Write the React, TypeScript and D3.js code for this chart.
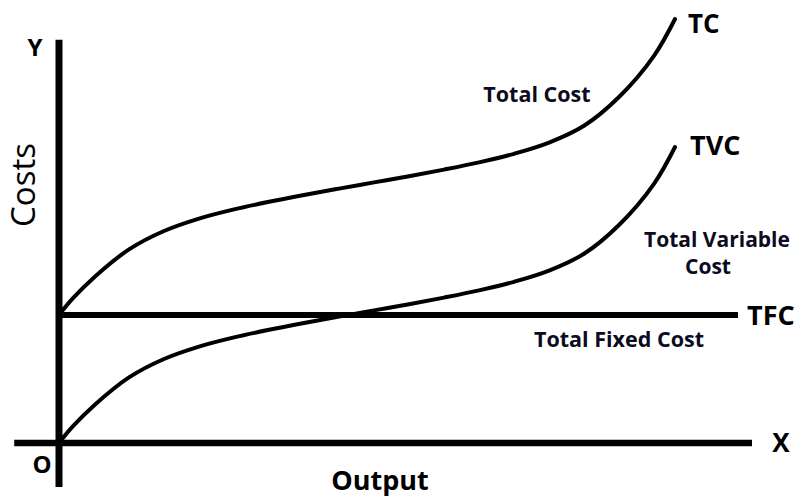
import * as d3 from "d3";

const W = 800;
const H = 497;

// output levels (x) and total variable cost
const output = [0, 2, 5, 10, 15, 20, 25, 30, 35, 40, 45, 50, 55, 60, 65, 70, 75, 80, 85, 88];
const tvc = [0, 4.2, 9.4, 16.4, 21, 24.1, 26.4, 28.3, 30, 31.6, 33.15, 34.7, 36.35, 38.15, 40.3, 43.1, 47.3, 54.5, 64.8, 74];
const tfc = 32;
const tc = tvc.map((v) => v + tfc);

const xAxisExtent = [-6.4, 99];
const yAxisExtent = [-11, 100.8];
const tfcExtent = [0, 97];

const FONT = "'Open Sans', 'DejaVu Sans', sans-serif";
const NAVY = "#0b0b22";

export default function App() {
	const x = d3.scaleLinear().domain([0, 100]).range([59, 759]);
	const y = d3.scaleLinear().domain([0, 100]).range([443, 43]);

	const pts = (vals: number[]) => output.map((o, i) => [o, vals[i]] as [number, number]);
	const line = d3
		.line<[number, number]>()
		.x((d) => x(d[0]))
		.y((d) => y(d[1]))
		.curve(d3.curveCatmullRom.alpha(0.5));

	return (
		<svg
			width={W}
			height={H}
			viewBox={`0 0 ${W} ${H}`}
			style={{ position: "absolute", left: 0, top: 0, background: "#fff" }}
			fontFamily={FONT}
		>
			{/* axes */}
			<line x1={x(0)} x2={x(0)} y1={y(yAxisExtent[0])} y2={y(yAxisExtent[1])} stroke="#000" strokeWidth={7} />
			<line x1={x(xAxisExtent[0])} x2={x(xAxisExtent[1])} y1={y(0)} y2={y(0)} stroke="#000" strokeWidth={6.5} />

			{/* fixed cost */}
			<line x1={x(tfcExtent[0])} x2={x(tfcExtent[1])} y1={y(tfc)} y2={y(tfc)} stroke="#000" strokeWidth={6} />

			{/* curves */}
			<path d={line(pts(tvc)) ?? ""} fill="none" stroke="#000" strokeWidth={4} strokeLinecap="round" />
			<path d={line(pts(tc)) ?? ""} fill="none" stroke="#000" strokeWidth={4} strokeLinecap="round" />

			{/* axis letters */}
			<text x={35} y={56} textAnchor="middle" fontSize={24} fontWeight={700}>Y</text>
			<text x={42} y={473} textAnchor="middle" fontSize={24} fontWeight={700}>O</text>
			<text x={781} y={452} textAnchor="middle" fontSize={26} fontWeight={700}>X</text>
			<text x={380} y={490} textAnchor="middle" fontSize={27} fontWeight={700}>Output</text>
			<text transform="translate(35,185) rotate(-90)" textAnchor="middle" fontSize={33}>Costs</text>

			{/* curve tags */}
			<text x={688} y={33} fontSize={26} fontWeight={700}>TC</text>
			<text x={690} y={155} fontSize={27} fontWeight={700}>TVC</text>
			<text x={747} y={325} fontSize={27} fontWeight={700}>TFC</text>

			{/* descriptions */}
			<text x={537} y={102} textAnchor="middle" fontSize={21.5} fontWeight={700} fill={NAVY}>Total Cost</text>
			<text x={717} y={247} textAnchor="middle" fontSize={21} fontWeight={700} fill={NAVY}>Total Variable</text>
			<text x={708} y={274} textAnchor="middle" fontSize={21} fontWeight={700} fill={NAVY}>Cost</text>
			<text x={619} y={347} textAnchor="middle" fontSize={21.5} fontWeight={700} fill={NAVY}>Total Fixed Cost</text>
		</svg>
	);
}
